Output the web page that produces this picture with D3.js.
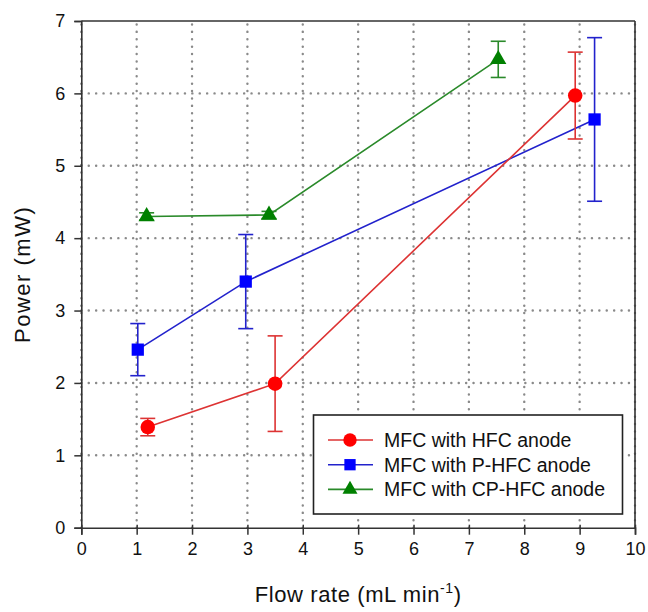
<!DOCTYPE html>
<html>
<head>
<meta charset="utf-8">
<script src="https://cdn.jsdelivr.net/npm/d3@7"></script>
<style>
  body { margin: 0; background: #fff; }
  svg { font-family: "Liberation Sans", Arial, sans-serif; }
</style>
</head>
<body>
<svg id="chart" width="648" height="612"></svg>
<script>
// data
const xTicks = [0, 1, 2, 3, 4, 5, 6, 7, 8, 9, 10];
const yTicks = [0, 1, 2, 3, 4, 5, 6, 7];

const seriesNames = ["MFC with HFC anode", "MFC with P-HFC anode", "MFC with CP-HFC anode"];

const hfcFlow = [1.2, 3.5, 8.92];
const hfcPower = [1.39, 1.99, 5.97];
const hfcErr = [0.12, 0.66, 0.6];

const pFlow = [1.02, 2.97, 9.27];
const pPower = [2.46, 3.40, 5.64];
const pErr = [0.36, 0.65, 1.13];

const cpFlow = [1.18, 3.39, 7.53];
const cpPower = [4.30, 4.32, 6.47];
const cpErr = [0.05, 0.05, 0.25];

const svg = d3.select("#chart");

const x = d3.scaleLinear().domain([0, 10]).range([81.3, 635]);
const y = d3.scaleLinear().domain([0, 7]).range([527.7, 21]);

const axisColor = "#333";

// grid
const grid = svg.append("g");
grid.selectAll(".vgrid")
  .data(xTicks)
  .join("line")
  .attr("x1", d => x(d)).attr("x2", d => x(d))
  .attr("y1", y(0)).attr("y2", y(7))
  .attr("stroke", "#8a8a8a")
  .attr("stroke-width", 2.4)
  .attr("stroke-linecap", "round")
  .attr("stroke-dasharray", "0.1 7.3");
grid.selectAll(".hgrid")
  .data(yTicks.filter(d => d > 0 && d < 7))
  .join("line")
  .attr("x1", x(0)).attr("x2", x(10))
  .attr("y1", d => y(d)).attr("y2", d => y(d))
  .attr("stroke", "#8a8a8a")
  .attr("stroke-width", 2.4)
  .attr("stroke-linecap", "round")
  .attr("stroke-dasharray", "0.1 7.3");

// frame
svg.append("line")
  .attr("x1", x(0)).attr("x2", x(10)).attr("y1", y(7)).attr("y2", y(7))
  .attr("stroke", axisColor).attr("stroke-width", 1.6);
svg.append("line")
  .attr("x1", x(10)).attr("x2", x(10)).attr("y1", y(0)).attr("y2", y(7))
  .attr("stroke", axisColor).attr("stroke-width", 1.6);

// axes
const xAxis = svg.append("g")
  .attr("transform", `translate(0,${y(0)})`)
  .call(d3.axisBottom(x).tickValues(xTicks).tickFormat(d3.format("d")).tickSize(7).tickPadding(8));
xAxis.select(".domain").attr("stroke", axisColor).attr("stroke-width", 1.6);
xAxis.selectAll(".tick line").attr("stroke", axisColor).attr("stroke-width", 1.5).attr("y1", -3);
xAxis.selectAll(".tick text").attr("font-size", 18).attr("fill", "#111").attr("font-family", null);

const yAxis = svg.append("g")
  .attr("transform", `translate(${x(0)},0)`)
  .call(d3.axisLeft(y).tickValues(yTicks).tickFormat(d3.format("d")).tickSize(7).tickPadding(9));
yAxis.select(".domain").attr("stroke", axisColor).attr("stroke-width", 1.6);
yAxis.selectAll(".tick line").attr("stroke", axisColor).attr("stroke-width", 1.5);
yAxis.selectAll(".tick text").attr("font-size", 18).attr("fill", "#111").attr("font-family", null);

// axis titles
const xTitle = svg.append("text")
  .attr("x", (x(0) + x(10)) / 2)
  .attr("y", 602)
  .attr("text-anchor", "middle")
  .attr("font-size", 22)
  .attr("letter-spacing", 0.6)
  .attr("fill", "#111");
xTitle.append("tspan").text("Flow rate (mL min");
xTitle.append("tspan").text("-1").attr("font-size", 14).attr("dy", -9);
xTitle.append("tspan").text(")").attr("dy", 9);

svg.append("text")
  .attr("transform", `translate(30,${(y(0) + y(7)) / 2}) rotate(-90)`)
  .attr("text-anchor", "middle")
  .attr("font-size", 22)
  .attr("letter-spacing", 1.5)
  .attr("fill", "#111")
  .text("Power (mW)");

// series
const series = [
  { name: seriesNames[1], flow: pFlow, power: pPower, err: pErr, line: "#2222cc", fill: "#0000ff", shape: d3.symbolSquare, size: 150 },
  { name: seriesNames[2], flow: cpFlow, power: cpPower, err: cpErr, line: "#2a8a2a", fill: "#008000", shape: d3.symbolTriangle, size: 115 },
  { name: seriesNames[0], flow: hfcFlow, power: hfcPower, err: hfcErr, line: "#dd3333", fill: "#ff0000", shape: d3.symbolCircle, size: 165 }
];

const lineGen = d3.line().x(d => x(d[0])).y(d => y(d[1]));

series.forEach(s => {
  const pts = s.flow.map((f, i) => [f, s.power[i], s.err[i]]);
  const g = svg.append("g");

  g.append("path")
    .attr("d", lineGen(pts))
    .attr("fill", "none")
    .attr("stroke", s.line)
    .attr("stroke-width", 1.6);

  // error bars
  pts.forEach(p => {
    const cx = x(p[0]);
    g.append("line")
      .attr("x1", cx).attr("x2", cx)
      .attr("y1", y(p[1] - p[2])).attr("y2", y(p[1] + p[2]))
      .attr("stroke", s.line).attr("stroke-width", 1.6);
    [p[1] - p[2], p[1] + p[2]].forEach(v => {
      g.append("line")
        .attr("x1", cx - 7.5).attr("x2", cx + 7.5)
        .attr("y1", y(v)).attr("y2", y(v))
        .attr("stroke", s.line).attr("stroke-width", 1.6);
    });
  });

  g.selectAll(".marker")
    .data(pts)
    .join("path")
    .attr("transform", d => `translate(${x(d[0])},${y(d[1])})`)
    .attr("d", d3.symbol().type(s.shape).size(s.size))
    .attr("fill", s.fill);
});

// legend
const legend = svg.append("g");
legend.append("rect")
  .attr("x", 313.5).attr("y", 415)
  .attr("width", 309).attr("height", 99)
  .attr("fill", "#fff")
  .attr("stroke", "#222")
  .attr("stroke-width", 1.6);

const legendOrder = [series[2], series[0], series[1]];
legendOrder.forEach((s, i) => {
  const ly = 440 + i * 24.7;
  legend.append("line")
    .attr("x1", 328).attr("x2", 373)
    .attr("y1", ly).attr("y2", ly)
    .attr("stroke", s.line).attr("stroke-width", 1.6);
  legend.append("path")
    .attr("transform", `translate(350,${ly})`)
    .attr("d", d3.symbol().type(s.shape).size(s.size * 0.85))
    .attr("fill", s.fill);
  legend.append("text")
    .attr("x", 384).attr("y", ly + 7)
    .attr("font-size", 19.5)
    .attr("fill", "#111")
    .text(s.name);
});
</script>
</body>
</html>
